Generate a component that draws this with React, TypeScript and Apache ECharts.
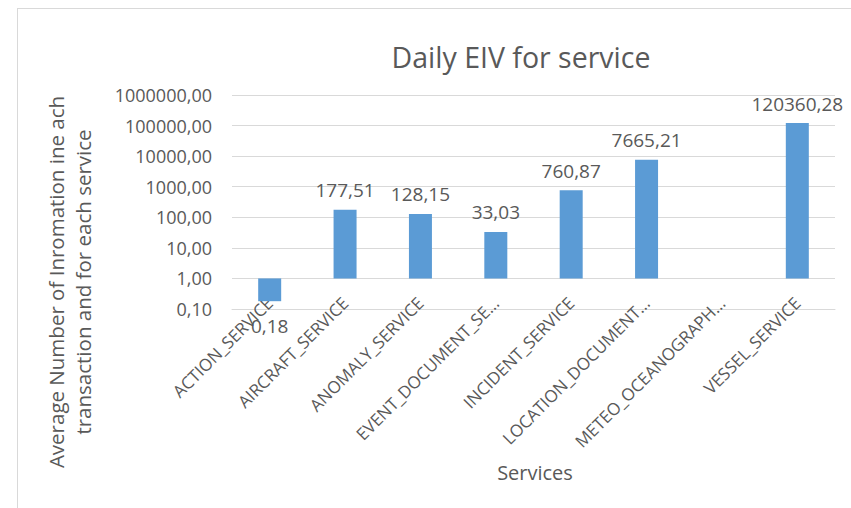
import React, { useEffect, useRef } from "react";
import * as echarts from "echarts";

const categories = [
  "ACTION_SERVICE",
  "AIRCRAFT_SERVICE",
  "ANOMALY_SERVICE",
  "EVENT_DOCUMENT_SE…",
  "INCIDENT_SERVICE",
  "LOCATION_DOCUMENT…",
  "METEO_OCEANOGRAPH…",
  "VESSEL_SERVICE",
];
const values: (number | null)[] = [0.18, 177.51, 128.15, 33.03, 760.87, 7665.21, null, 120360.28];
const titleText = "Daily EIV for service";
const yNameLines = ["Average Number of Inromation ine ach", "transaction and for each service"];
const xName = "Services";

const FONT = "'Open Sans', sans-serif";
const GREY = "#595959";

const fmt = (v: number) => v.toFixed(2).replace(".", ",");

export default function App() {
  const ref = useRef<HTMLDivElement>(null);
  useEffect(() => {
    document.body.style.margin = "0";
    const chart = echarts.init(ref.current!, undefined, { renderer: "svg" });
    chart.setOption({
      animation: false,
      backgroundColor: "#ffffff",
      textStyle: { fontFamily: FONT },
      grid: { left: 232, right: 16, top: 95, bottom: 199, containLabel: false },
      xAxis: {
        type: "category",
        data: categories,
        axisLine: { show: true, lineStyle: { color: "#d9d9d9" } },
        axisTick: { show: false },
        axisLabel: {
          interval: 0,
          rotate: 45,
          margin: -9,
          color: GREY,
          fontSize: 17,
          fontFamily: FONT,
        },
      },
      yAxis: {
        type: "log",
        logBase: 10,
        min: 0.1,
        max: 1000000,
        axisLine: { show: false },
        axisTick: { show: false },
        splitLine: { lineStyle: { color: "#d9d9d9", width: 1 } },
        axisLabel: {
          color: GREY,
          fontSize: 18,
          fontFamily: FONT,
          margin: 20,
          formatter: (v: number) => fmt(v),
        },
      },
      series: [
        {
          type: "bar",
          data: values.map((v) =>
            v === null ? "-" : v < 1 ? { value: v, label: { distance: 15 } } : v
          ),
          barWidth: 23,
          itemStyle: { color: "#5b9bd5" },
          label: {
            show: true,
            position: "outside",
            distance: 10,
            color: GREY,
            fontSize: 19,
            fontFamily: FONT,
            formatter: (p: any) => fmt(p.value),
          },
        },
      ],
      graphic: [
        {
          type: "line",
          shape: { x1: 17, y1: 8.5, x2: 851, y2: 8.5 },
          style: { stroke: "#d9d9d9", lineWidth: 1 },
        },
        {
          type: "line",
          shape: { x1: 17.5, y1: 8, x2: 17.5, y2: 508 },
          style: { stroke: "#d9d9d9", lineWidth: 1 },
        },
        {
          type: "text",
          x: 521,
          y: 57,
          style: {
            text: titleText,
            fontSize: 28.5,
            fontFamily: FONT,
            fill: GREY,
            textAlign: "center",
            textVerticalAlign: "middle",
          },
        },
        {
          type: "text",
          x: 535,
          y: 472,
          style: {
            text: xName,
            fontSize: 20,
            fontFamily: FONT,
            fill: GREY,
            textAlign: "center",
            textVerticalAlign: "middle",
          },
        },
        ...yNameLines.map((t, i) => ({
          type: "text",
          x: 56 + i * 27,
          y: 282,
          rotation: Math.PI / 2,
          style: {
            text: t,
            fontSize: 20.5,
            fontFamily: FONT,
            fill: GREY,
            textAlign: "center",
            textVerticalAlign: "middle",
          },
        })),
      ],
    });
    return () => chart.dispose();
  }, []);
  return <div ref={ref} style={{ width: 851, height: 508 }} />;
}
